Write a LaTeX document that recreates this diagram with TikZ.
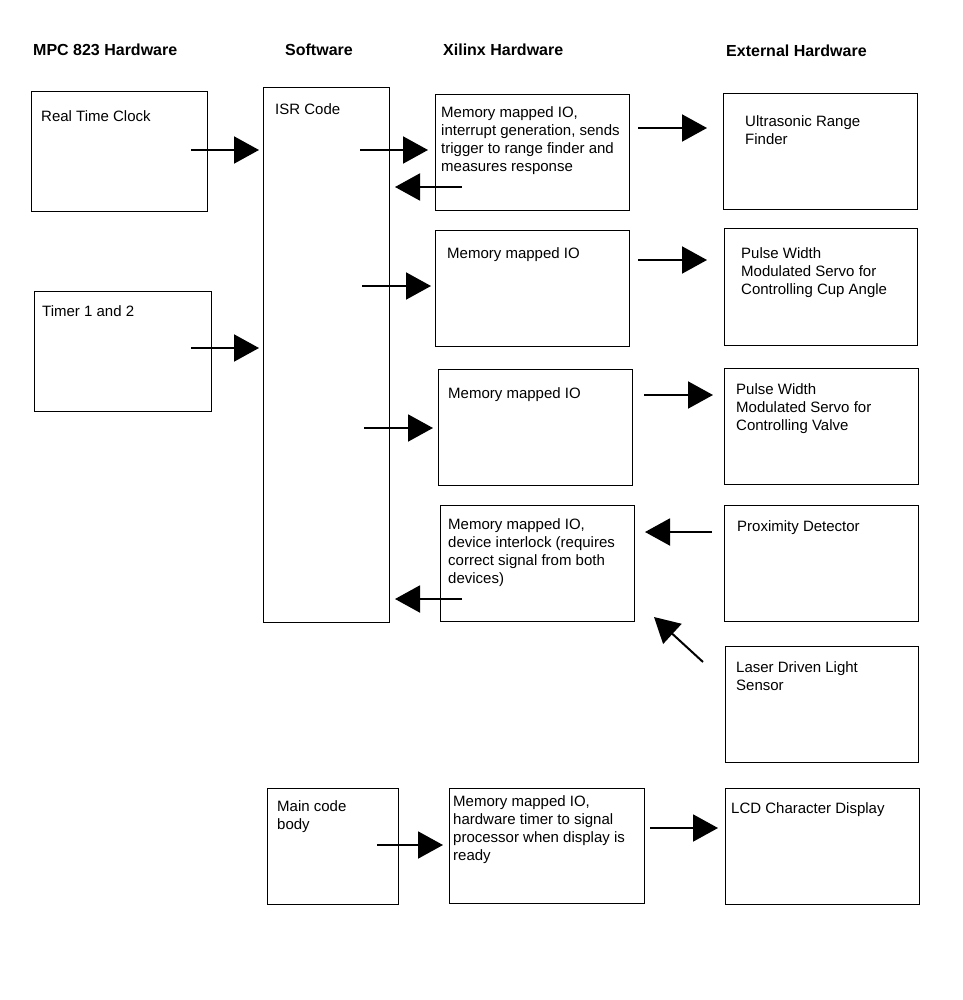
\documentclass[tikz,border=0pt]{standalone}
\usepackage{fontspec}
\setmainfont{Liberation Sans}
\usetikzlibrary{arrows.meta,fit}
\begin{document}
\begin{tikzpicture}[x=1pt,y=-1pt,
  box/.style={draw=black,line width=1pt,inner sep=0pt},
  txt/.style={anchor=north west,inner sep=0pt,align=left,font=\fontsize{15}{18}\selectfont},
  hdr/.style={anchor=north west,inner sep=0pt,font=\fontsize{16}{18}\selectfont\bfseries},
  arr/.style={line width=2pt,-{Triangle[length=25pt,width=27pt]}}]
\fill[white] (0,0) rectangle (962,1000);
\useasboundingbox (0,0) rectangle (962,1000);
% headers
\node[hdr] (h1) at (33,44) {MPC 823 Hardware};
\node[hdr] (h2) at (285,44) {Software};
\node[hdr] (h3) at (443,44) {Xilinx Hardware};
\node[hdr] (h4) at (726,45) {External Hardware};
% boxes
\node[box,fit={(31,92) (207,212)}] (rtc) {};
\node[box,fit={(34,291) (211,411)}] (timer) {};
\node[box,fit={(263,88) (389,622)}] (isr) {};
\node[box,fit={(435,95) (629,211)}] (x1) {};
\node[box,fit={(435,231) (629,346)}] (x2) {};
\node[box,fit={(438,369) (632,485)}] (x3) {};
\node[box,fit={(440,505) (634,621)}] (x4) {};
\node[box,fit={(723,94) (917,210)}] (e1) {};
\node[box,fit={(724,229) (917,345)}] (e2) {};
\node[box,fit={(724,368) (918,484)}] (e3) {};
\node[box,fit={(724,505) (918,621)}] (e4) {};
\node[box,fit={(725,646) (918,762)}] (e5) {};
\node[box,fit={(267,788) (398,904)}] (mainb) {};
\node[box,fit={(449,788) (644,903)}] (x5) {};
\node[box,fit={(725,788) (919,904)}] (e6) {};
% texts
\node[txt] (trtc) at (41,110) {Real Time Clock};
\node[txt] (ttimer) at (42,305) {Timer 1 and 2};
\node[txt] (tisr) at (275,103) {ISR Code};
\node[txt] (tx1) at (441,106) {Memory mapped IO,\\interrupt generation, sends\\trigger to range finder and\\measures response};
\node[txt] (tx2) at (447,247) {Memory mapped IO};
\node[txt] (tx3) at (448,387) {Memory mapped IO};
\node[txt] (tx4) at (448,518) {Memory mapped IO,\\device interlock (requires\\correct signal from both\\devices)};
\node[txt] (te1) at (745,115) {Ultrasonic Range\\Finder};
\node[txt] (te2) at (741,247) {Pulse Width\\Modulated Servo for\\Controlling Cup Angle};
\node[txt] (te3) at (736,383) {Pulse Width\\Modulated Servo for\\Controlling Valve};
\node[txt] (te4) at (737,520) {Proximity Detector};
\node[txt] (te5) at (736,661) {Laser Driven Light\\Sensor};
\node[txt] (tmain) at (277,800) {Main code\\body};
\node[txt] (tx5) at (453,795) {Memory mapped IO,\\hardware timer to signal\\processor when display is\\ready};
\node[txt] (te6) at (731,802) {LCD Character Display};
% arrow end points
\coordinate (a1s) at (191,150);  \coordinate (a1e) at (259,150);
\coordinate (a2s) at (191,348);  \coordinate (a2e) at (259,348);
\coordinate (a3s) at (360,150);  \coordinate (a3e) at (428,150);
\coordinate (a4s) at (462,187);  \coordinate (a4e) at (395,187);
\coordinate (a5s) at (362,286);  \coordinate (a5e) at (431,286);
\coordinate (a6s) at (364,428);  \coordinate (a6e) at (433,428);
\coordinate (a7s) at (462,599);  \coordinate (a7e) at (395,599);
\coordinate (a8s) at (638,128);  \coordinate (a8e) at (707,128);
\coordinate (a9s) at (638,260);  \coordinate (a9e) at (707,260);
\coordinate (a10s) at (644,395); \coordinate (a10e) at (713,395);
\coordinate (a11s) at (712,532); \coordinate (a11e) at (645,532);
\coordinate (a12s) at (703,662); \coordinate (a12e) at (654,617);
\coordinate (a13s) at (377,845); \coordinate (a13e) at (443,845);
\coordinate (a14s) at (650,828); \coordinate (a14e) at (718,828);
\foreach \i in {1,...,14} {\draw[arr] (a\i s) -- (a\i e);}
\end{tikzpicture}
\end{document}
